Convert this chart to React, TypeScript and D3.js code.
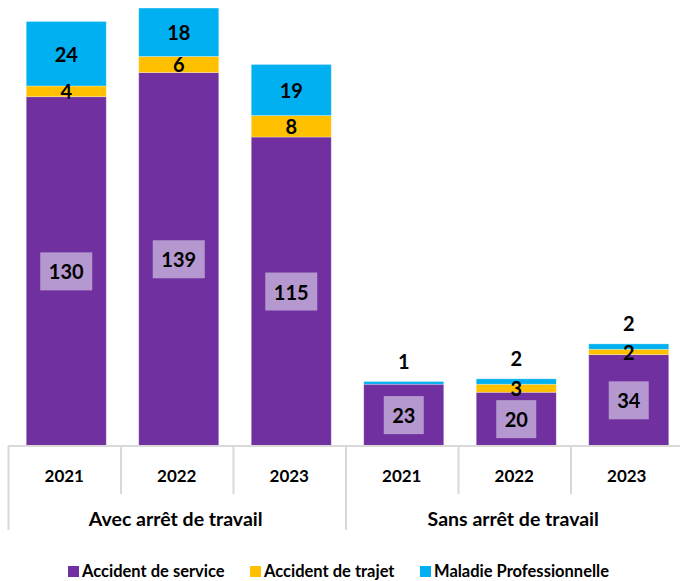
import React from "react";
import * as d3 from "d3";

const groups = ["Avec arrêt de travail", "Sans arrêt de travail"];
const years = ["2021", "2022", "2023"];
const series = ["Accident de service", "Accident de trajet", "Maladie Professionnelle"];
const colors = ["#7030a0", "#ffc000", "#00b0f0"];

// values per bar, order: Avec 2021..2023, Sans 2021..2023
const accidentService = [130, 139, 115, 23, 20, 34];
const accidentTrajet = [4, 6, 8, 0, 3, 2];
const maladiePro = [24, 18, 19, 1, 2, 2];

const W = 680;
const H = 581;
const BASE = 446;
const FONT = "Lato, 'Open Sans', sans-serif";

export default function App() {
  const keys = groups.flatMap((g, gi) => years.map((y) => `${gi}-${y}`));
  const rows = keys.map((k, i) => ({
    key: k,
    group: Math.floor(i / 3),
    year: years[i % 3],
    0: accidentService[i],
    1: accidentTrajet[i],
    2: maladiePro[i],
  }));

  const stack = d3.stack<any>().keys(["0", "1", "2"]);
  const stacked = stack(rows as any);

  const slot = d3.scaleBand().domain(keys).range([10, 10 + 6 * 112.5]).padding(0);
  const barW = 80;
  const barX = (k: string) => (slot(k) as number) + (slot.bandwidth() - barW) / 2;
  const y = d3.scaleLinear().domain([0, 166]).range([BASE, 0]);

  const labels: React.ReactNode[] = [];
  stacked.forEach((layer, si) => {
    layer.forEach((d, i) => {
      const v = d[1] - d[0];
      if (v <= 0) return;
      const cx = barX(keys[i]) + barW / 2;
      let cy = (y(d[0]) + y(d[1])) / 2;
      const inSans = rows[i].group === 1;
      if (si === 2 && inSans) cy = y(d[1]) - 21;
      if (si === 0) {
        const bw = String(v).length > 2 ? 52 : 40;
        labels.push(
          <rect key={`b${si}-${i}`} x={cx - bw / 2} y={cy - 19} width={bw} height={38} fill="#b598cf" />
        );
      }
      labels.push(
        <text
          key={`t${si}-${i}`}
          x={cx}
          y={cy}
          textAnchor="middle"
          dominantBaseline="central"
          fontFamily={FONT}
          fontWeight={700}
          fontSize={20}
          fill="#000"
        >
          {v}
        </text>
      );
    });
  });

  const legendItems = [
    { x: 68, label: series[0] },
    { x: 250, label: series[1] },
    { x: 420, label: series[2] },
  ];

  return (
    <div style={{ position: "fixed", left: 0, top: 0 }}>
      <svg width={W} height={H} style={{ display: "block" }}>
        <rect width={W} height={H} fill="#fff" />
        {stacked.map((layer, si) =>
          layer.map((d, i) => {
            const h = y(d[0]) - y(d[1]);
            if (h <= 0) return null;
            return (
              <rect
                key={`${si}-${i}`}
                x={barX(keys[i])}
                y={y(d[1])}
                width={barW}
                height={h}
                fill={colors[si]}
                stroke="#ffffff"
                strokeOpacity={0.35}
                strokeWidth={0.8}
              />
            );
          })
        )}
        {labels}
        {/* axis */}
        <line x1={8} x2={W} y1={BASE} y2={BASE} stroke="#d9d9d9" strokeWidth={2} />
        {keys.map((k, i) => {
          const x0 = slot(k) as number;
          const isGroupEdge = i % 3 === 0;
          return (
            <line
              key={`tk${i}`}
              x1={x0 - 1.5}
              x2={x0 - 1.5}
              y1={BASE}
              y2={isGroupEdge ? 530 : 494}
              stroke="#d9d9d9"
              strokeWidth={2}
            />
          );
        })}
        {rows.map((r, i) => (
          <text
            key={`yr${i}`}
            x={(slot(keys[i]) as number) + slot.bandwidth() / 2 - 2}
            y={475}
            textAnchor="middle"
            dominantBaseline="central"
            fontFamily={FONT}
            fontWeight={700}
            fontSize={17}
            fill="#000"
          >
            {r.year}
          </text>
        ))}
        {groups.map((g, gi) => {
          const first = slot(keys[gi * 3]) as number;
          return (
            <text
              key={`g${gi}`}
              x={first + (slot.bandwidth() * 3) / 2 - 3}
              y={518}
              textAnchor="middle"
              dominantBaseline="central"
              fontFamily={FONT}
              fontWeight={700}
              fontSize={19.5}
              fill="#000"
            >
              {g}
            </text>
          );
        })}
        {/* legend */}
        {legendItems.map((l, i) => (
          <g key={`lg${i}`}>
            <rect x={l.x} y={566} width={11} height={11} fill={colors[i]} />
            <text
              x={l.x + 14}
              y={571}
              dominantBaseline="central"
              fontFamily={FONT}
              fontWeight={700}
              fontSize={16.5}
              fill="#000"
            >
              {l.label}
            </text>
          </g>
        ))}
      </svg>
    </div>
  );
}
